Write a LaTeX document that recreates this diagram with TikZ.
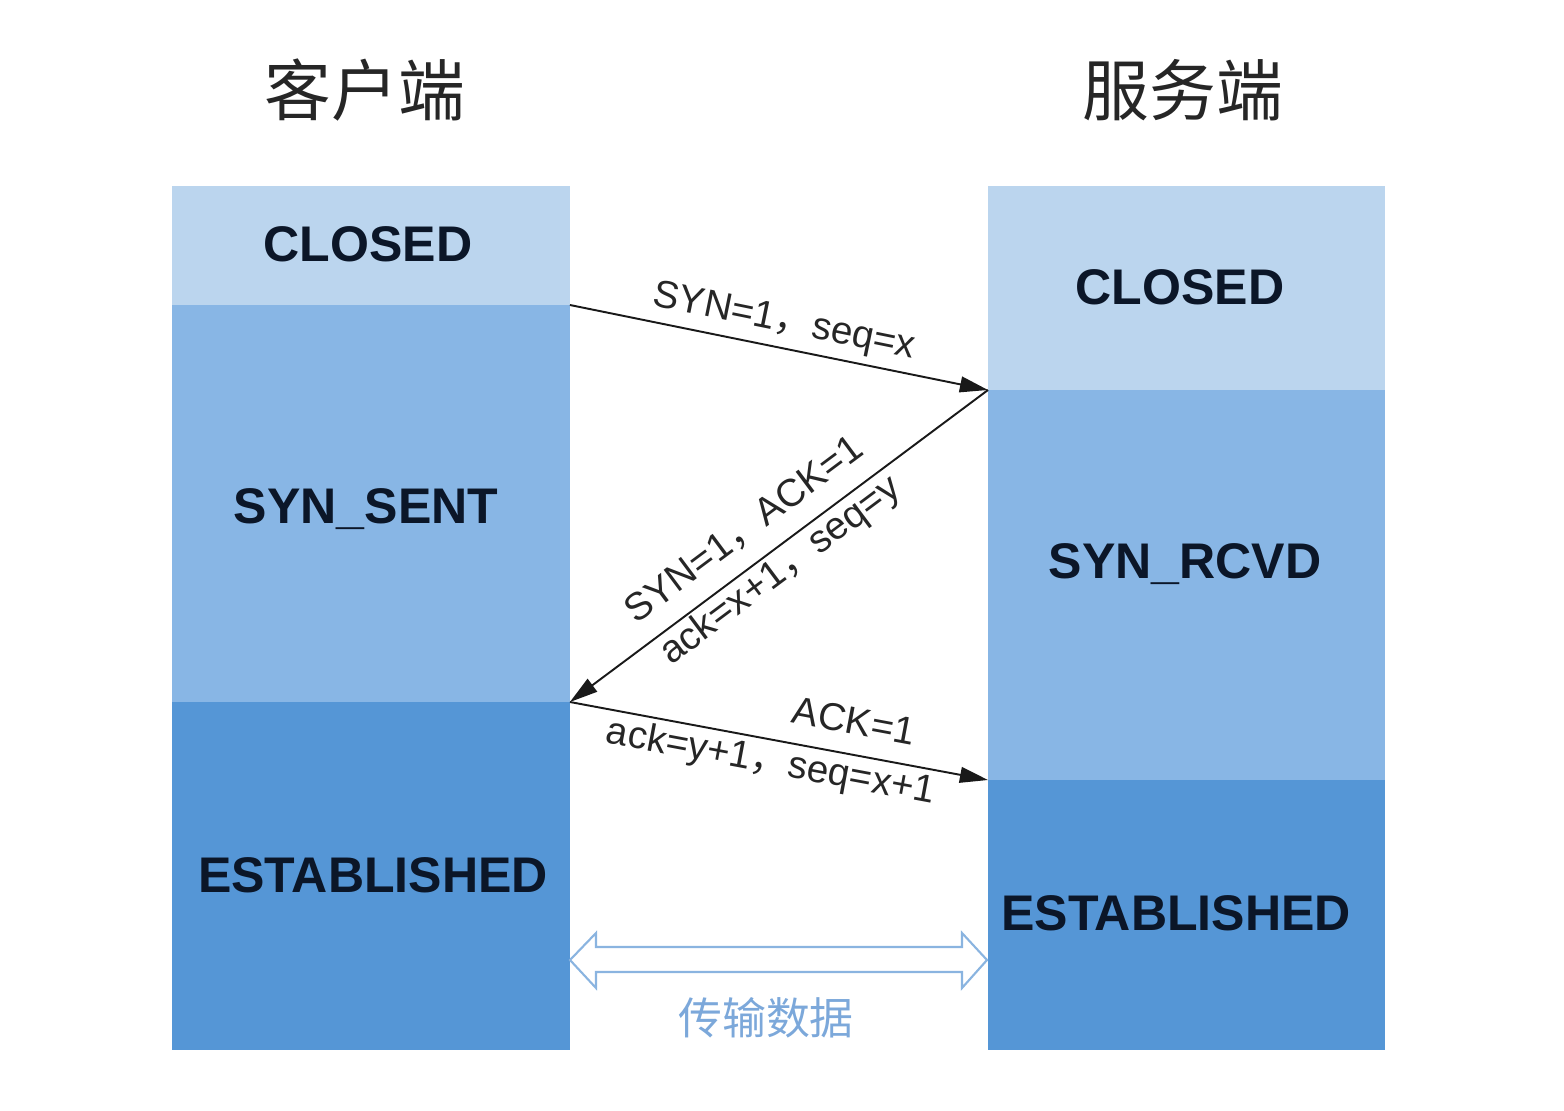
\documentclass[tikz,border=0pt]{standalone}
\usepackage{fontspec}
\setmainfont{Liberation Sans}
\newfontfamily\cjk{Noto Sans CJK SC}
\usetikzlibrary{arrows.meta}
\definecolor{cLight}{HTML}{BBD5EE}
\definecolor{cMid}{HTML}{88B6E5}
\definecolor{cDark}{HTML}{5596D6}
\definecolor{cText}{HTML}{0B1628}
\definecolor{cFlow}{HTML}{8AB4E0}
\definecolor{cFlowText}{HTML}{7CA8DA}
\begin{document}
\begin{tikzpicture}[x=0.02cm,y=-0.02cm,
  mytip/.tip={Triangle[length=16pt,width=9pt]},
  statebox/.style={draw=none,inner sep=0pt,outer sep=0pt,anchor=north west},
  statelabel/.style={font=\fontsize{28.5}{33}\selectfont\bfseries,text=cText,inner sep=0pt,text height=0.72em,text depth=0pt},
  msg/.style={-mytip,line width=1.1pt,black!90},
  msgback/.style={mytip-,line width=1.1pt,black!90},
  msglabel/.style={font=\fontsize{22}{26}\selectfont,text=black!85,inner sep=0pt,text height=0.75em,text depth=0.2em,sloped},
  titlelabel/.style={font=\cjk\fontsize{38}{44}\selectfont,text=black!85},
  flowlabel/.style={font=\cjk\fontsize{25}{30}\selectfont,text=cFlowText}]
\useasboundingbox (0,0) rectangle (1564,1111);
% client column
\node[statebox,fill=cLight,minimum width=7.96cm,minimum height=2.38cm] (lclosed) at (172,186) {};
\node[statebox,fill=cMid,minimum width=7.96cm,minimum height=7.94cm] (lsent) at (172,305) {};
\node[statebox,fill=cDark,minimum width=7.96cm,minimum height=6.96cm] (lest) at (172,702) {};
% server column
\node[statebox,fill=cLight,minimum width=7.94cm,minimum height=4.08cm] (rclosed) at (988,186) {};
\node[statebox,fill=cMid,minimum width=7.94cm,minimum height=7.8cm] (rsyn) at (988,390) {};
\node[statebox,fill=cDark,minimum width=7.94cm,minimum height=5.4cm] (rest) at (988,780) {};
% state labels
\node[statelabel] (tlclosed) at (368,255) {CLOSED};
\node[statelabel] (tlsent) at (366,517) {SYN\_SENT};
\node[statelabel] (tlest) at (373,886) {ESTABLISHED};
\node[statelabel] (trclosed) at (1180,298) {CLOSED};
\node[statelabel] (trsyn) at (1185,572) {SYN\_RCVD};
\node[statelabel] (trest) at (1176,924) {ESTABLISHED};
% titles
\node[titlelabel] (tclient) at (365,90) {客户端};
\node[titlelabel] (tserver) at (1183,90) {服务端};
% messages
\draw[msg] (lsent.north east) -- node[msglabel,above=6.5pt] (m1) {SYN=1{\cjk，}seq=x} (rsyn.north west);
\draw[msgback] (lest.north east) -- node[msglabel,pos=0.465,above=10pt] (m2a) {SYN=1{\cjk，}ACK=1}
  node[msglabel,pos=0.474,below=10pt] (m2b) {ack=x+1{\cjk，}seq=y} (rsyn.north west);
\draw[msg] (lest.north east) -- node[msglabel,pos=0.665,above=9pt] (m3a) {ACK=1}
  node[msglabel,pos=0.49,below=11pt] (m3b) {ack=y+1{\cjk，}seq=x+1} (rest.north west);
% data transfer double arrow
\draw[cFlow,line width=1.2pt,fill=white,line join=miter]
  (570,960) -- (596,933) -- (596,947) -- (962,947) -- (962,933) -- (987,960)
  -- (962,988) -- (962,972) -- (596,972) -- (596,988) -- cycle;
\node[flowlabel] (tflow) at (766,1018) {传输数据};
\end{tikzpicture}
\end{document}
